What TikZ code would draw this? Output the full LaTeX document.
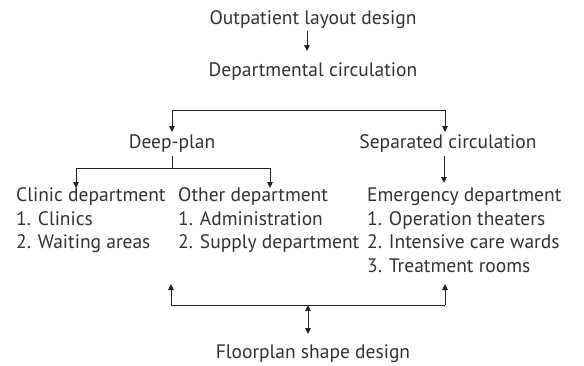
\documentclass[tikz,border=0pt]{standalone}
\usepackage{fontspec}
\setmainfont{PT Sans}
\usetikzlibrary{arrows.meta}
\definecolor{txt}{HTML}{333333}
\definecolor{ln}{HTML}{222222}
\begin{document}
\begin{tikzpicture}[x=1pt,y=-1pt,
  lbl/.style={inner sep=0pt, text=txt, font=\fontsize{19.5}{23}\selectfont},
  conn/.style={draw=ln, line width=0.9pt},
  arr/.style={conn, -{Triangle[width=5.5pt,length=6pt]}},
  darr/.style={conn, {Triangle[width=5.5pt,length=6pt]}-{Triangle[width=5.5pt,length=6pt]}}]
\fill[white] (0,0) rectangle (584,365);
\useasboundingbox (0,0) rectangle (584,365);
% text nodes
\node[lbl, anchor=base] (out) at (313,24) {Outpatient layout design};
\node[lbl, anchor=base] (dep) at (313,76) {Departmental circulation};
\node[lbl, anchor=base] (deep) at (172,148) {Deep-plan};
\node[lbl, anchor=base] (sep) at (448,148) {Separated circulation};
\node[lbl, anchor=base west] (cli) at (16,201) {Clinic department};
\node[lbl, anchor=base west] (cli1) at (16,225) {1. Clinics};
\node[lbl, anchor=base west] (cli2) at (16,248) {2. Waiting areas};
\node[lbl, anchor=base west] (oth) at (178,201) {Other department};
\node[lbl, anchor=base west] (oth1) at (178,225) {1. Administration};
\node[lbl, anchor=base west] (oth2) at (178,248) {2. Supply department};
\node[lbl, anchor=base west] (eme) at (367,201) {Emergency department};
\node[lbl, anchor=base west] (eme1) at (367,225) {1. Operation theaters};
\node[lbl, anchor=base west] (eme2) at (367,248) {2. Intensive care wards};
\node[lbl, anchor=base west] (eme3) at (367,272) {3. Treatment rooms};
\node[lbl, anchor=base] (flo) at (313,358) {Floorplan shape design};
% connector points
\coordinate (a1) at (307,31);
\coordinate (a2) at (307,51);
\coordinate (bl) at (172,110);
\coordinate (br) at (445,110);
\coordinate (blt) at (172,132);
\coordinate (brt) at (445,132);
\coordinate (ds) at (172,156);
\coordinate (dm) at (172,168);
\coordinate (dl) at (76,168);
\coordinate (dr) at (270,168);
\coordinate (dlt) at (76,188);
\coordinate (drt) at (270,188);
\coordinate (ss) at (444,156);
\coordinate (sst) at (444,183);
\coordinate (fl) at (171,305);
\coordinate (fr) at (445,305);
\coordinate (flt) at (171,284);
\coordinate (frt) at (445,284);
\coordinate (fm) at (308,305);
\coordinate (fmt) at (308,334);
% connectors
\draw[arr] (a1) -- (a2);
\draw[conn] (bl) -- (br);
\draw[arr] (bl) -- (blt);
\draw[arr] (br) -- (brt);
\draw[conn] (ds) -- (dm);
\draw[conn] (dl) -- (dr);
\draw[arr] (dl) -- (dlt);
\draw[arr] (dr) -- (drt);
\draw[arr] (ss) -- (sst);
\draw[conn] (fl) -- (fr);
\draw[arr] (fl) -- (flt);
\draw[arr] (fr) -- (frt);
\draw[darr] (fm) -- (fmt);
\end{tikzpicture}
\end{document}
